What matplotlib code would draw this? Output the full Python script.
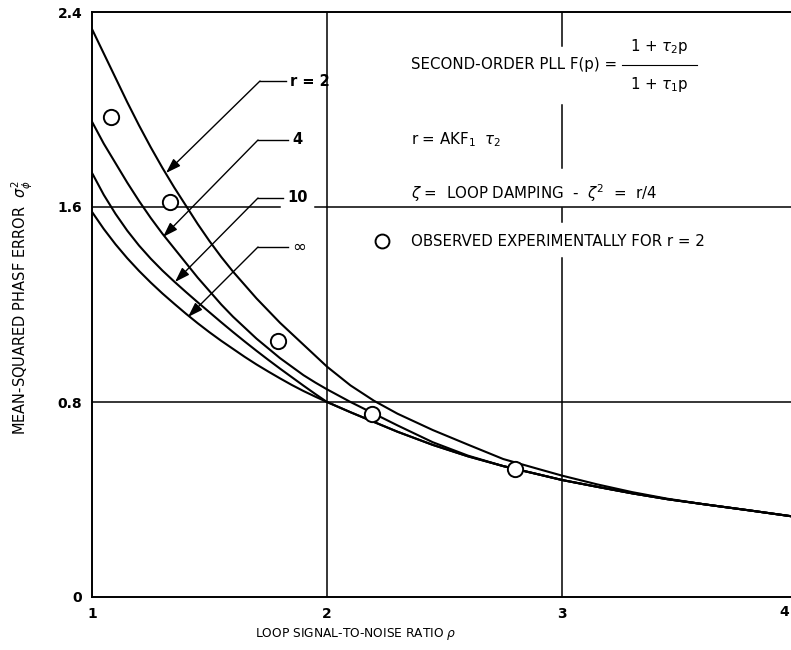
import matplotlib
matplotlib.use("Agg")
import matplotlib.pyplot as plt

# ---------------- data ----------------
rho = [1.0, 1.05, 1.1, 1.15, 1.2, 1.25, 1.3, 1.35, 1.4, 1.45, 1.5, 1.55, 1.6, 1.65, 1.7,
       1.75, 1.8, 1.85, 1.9, 1.95, 2.0, 2.1, 2.2, 2.3, 2.45, 2.6, 2.75, 2.9, 3.0, 3.15,
       3.3, 3.45, 3.6, 3.8, 4.0]
var_r2 = [2.33, 2.23, 2.13, 2.03, 1.935, 1.845, 1.76, 1.68, 1.605, 1.53, 1.46, 1.395, 1.335,
          1.28, 1.225, 1.175, 1.125, 1.08, 1.035, 0.99, 0.945, 0.868, 0.805, 0.752, 0.685,
          0.625, 0.566, 0.525, 0.498, 0.462, 0.43, 0.403, 0.381, 0.355, 0.328]
var_r4 = [1.95, 1.86, 1.78, 1.70, 1.625, 1.555, 1.49, 1.43, 1.37, 1.31, 1.255, 1.20, 1.15,
          1.105, 1.06, 1.02, 0.98, 0.945, 0.91, 0.88, 0.852, 0.80, 0.752, 0.704, 0.635,
          0.58, 0.537, 0.503, 0.48, 0.452, 0.425, 0.401, 0.381, 0.355, 0.328]
var_r10 = [1.74, 1.65, 1.572, 1.503, 1.442, 1.388, 1.339, 1.294, 1.251, 1.209, 1.168, 1.127,
           1.087, 1.048, 1.01, 0.973, 0.937, 0.902, 0.867, 0.833, 0.80, 0.758, 0.718, 0.678,
           0.624, 0.577, 0.537, 0.503, 0.48, 0.452, 0.425, 0.401, 0.381, 0.355, 0.328]
var_inf = [1.58, 1.51, 1.447, 1.39, 1.338, 1.29, 1.245, 1.203, 1.162, 1.123, 1.086, 1.051,
           1.018, 0.985, 0.954, 0.925, 0.897, 0.87, 0.845, 0.822, 0.80, 0.758, 0.718, 0.678,
           0.624, 0.577, 0.537, 0.503, 0.48, 0.452, 0.425, 0.401, 0.381, 0.355, 0.328]

obs_rho = [1.08, 1.33, 1.79, 2.19, 2.80]
obs_var = [1.97, 1.62, 1.05, 0.75, 0.525]

curve_labels = ["r = 2", "4", "10", "\u221e"]
xticks = [1, 2, 3]
xtick_labels = ["1", "2", "3"]
yticks = [0, 0.8, 1.6, 2.4]
ytick_labels = ["0", "0.8", "1.6", "2.4"]

# ---------------- layout helpers ----------------
W, H = 791, 650
X0, X1PX = 92, 235.0      # pixel of rho=1, pixels per unit
Y0, Y1PX = 597, 243.75    # pixel of var=0, pixels per unit


def d(px, py):
    return 1 + (px - X0) / X1PX, (Y0 - py) / Y1PX


fig = plt.figure(figsize=(W / 100, H / 100), dpi=100)
ax = fig.add_axes([X0 / W, (H - Y0) / H, (W - X0) / W, (Y0 - 12) / H])
ax.set_xlim(1, 1 + (W - X0) / X1PX)
ax.set_ylim(0, 2.4)

for s in ["left", "bottom", "top"]:
    ax.spines[s].set_linewidth(1.4)
ax.spines["right"].set_visible(False)

ax.set_xticks(xticks)
ax.set_xticklabels(xtick_labels, fontsize=10, fontweight="bold")
ax.set_yticks(yticks)
ax.set_yticklabels(ytick_labels, fontsize=10, fontweight="bold")
ax.tick_params(length=0, pad=7)

# grid lines (with gaps where the reference leaves room for text)
ax.axhline(0.8, color="black", lw=1.1, zorder=1)
h16 = [(1.0, d(280, 0)[0]), (d(315, 0)[0], 4.0)]
for a, b in h16:
    ax.plot([a, b], [1.6, 1.6], color="black", lw=1.1, zorder=1)
ax.axvline(2, color="black", lw=1.1, zorder=1)
v3 = [(2.4, d(0, 46)[1]), (d(0, 105)[1], d(0, 168)[1]), (d(0, 208)[1], d(0, 222)[1]), (d(0, 258)[1], 0)]
for a, b in v3:
    ax.plot([3, 3], [a, b], color="black", lw=1.1, zorder=1)

# curves
for yv in (var_r2, var_r4, var_r10, var_inf):
    ax.plot(rho, yv, color="black", lw=1.5, zorder=3, solid_joinstyle="round")

ax.plot(obs_rho, obs_var, linestyle="none", marker="o", markersize=11,
        markerfacecolor="white", markeredgecolor="black", markeredgewidth=1.4, zorder=4)

# labels with leader lines and arrows
lab_pos = [(290, 81, 260, 166, 173), (292, 140, 258, 163, 237),
           (287, 198, 258, 175, 282), (292, 247, 258, 188, 317)]
for lab, (tx, ty, cx, hx, hy) in zip(curve_labels, lab_pos):
    t = d(tx, ty)
    c = d(cx, ty)
    e = d(tx - 4, ty)
    tip = d(hx, hy)
    ax.plot([c[0], e[0]], [c[1], e[1]], color="black", lw=1.0, zorder=5)
    ax.annotate("", xy=tip, xytext=c,
                arrowprops=dict(arrowstyle="-|>,head_length=0.9,head_width=0.3",
                                color="black", lw=1.0, shrinkA=0, shrinkB=0),
                zorder=5)
    ax.text(t[0], t[1], lab, fontsize=10.5 if lab != "\u221e" else 12, ha="left", va="center",
            zorder=5, fontweight="bold" if lab != "\u221e" else "normal")

# annotation block
fs = 10.8
p = d(411, 65)
ax.text(p[0], p[1], "SECOND-ORDER PLL F(p) =", fontsize=fs, ha="left", va="center")
p = d(659, 47)
ax.text(p[0], p[1], r"1 + $\tau_2$p", fontsize=fs, ha="center", va="center")
p = d(659, 85)
ax.text(p[0], p[1], r"1 + $\tau_1$p", fontsize=fs, ha="center", va="center")
a, b = d(622, 65), d(697, 65)
ax.plot([a[0], b[0]], [a[1], b[1]], color="black", lw=0.8)
p = d(411, 140)
ax.text(p[0], p[1], r"r = AKF$_1$  $\tau_2$", fontsize=fs, ha="left", va="center")
p = d(411, 193)
ax.text(p[0], p[1], r"$\zeta$ =  LOOP DAMPING  -  $\zeta^2$  =  r/4", fontsize=fs, ha="left", va="center")
p = d(382, 241)
ax.plot([p[0]], [p[1]], linestyle="none", marker="o", markersize=10,
        markerfacecolor="white", markeredgecolor="black", markeredgewidth=1.4)
p = d(411, 241)
ax.text(p[0], p[1], "OBSERVED EXPERIMENTALLY FOR r = 2", fontsize=fs, ha="left", va="center")

# axis titles
fig.text(22 / W, 1 - 307 / H, r"MEAN-SQUARED PHASF ERROR  $\sigma_\phi^2$", rotation=90,
         fontsize=10.5, ha="center", va="center")
fig.text(356 / W, 1 - 634 / H, r"LOOP SIGNAL-TO-NOISE RATIO $\rho$", fontsize=8.8,
         ha="center", va="center")
fig.text(789 / W, 1 - 612 / H, "4", fontsize=10, fontweight="bold", ha="right", va="center")

fig.savefig("out.png", dpi=100)
